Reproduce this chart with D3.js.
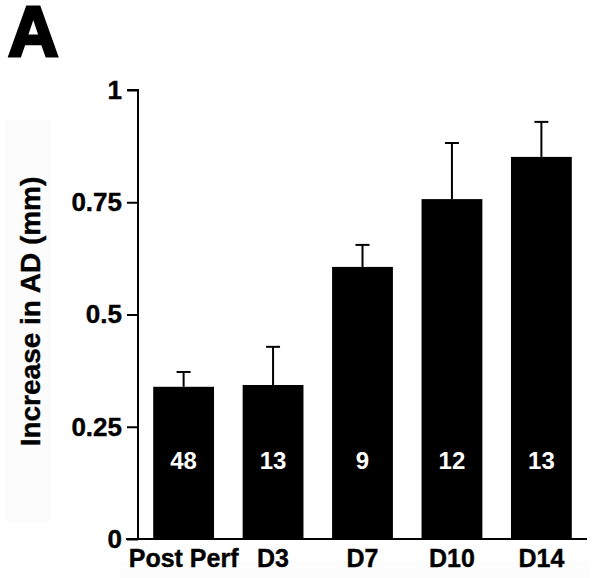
<!DOCTYPE html>
<html>
<head>
<meta charset="utf-8">
<script src="https://cdn.jsdelivr.net/npm/d3@7.9.0/dist/d3.min.js"></script>
<style>
  body { margin: 0; background: #fff; }
  svg text { font-family: "Liberation Sans", Arial, Helvetica, sans-serif; font-weight: bold; }
</style>
</head>
<body>
<svg id="chart" width="600" height="578"></svg>
<script>
// data
const categories = ['Post Perf', 'D3', 'D7', 'D10', 'D14'];
const means = [0.339, 0.343, 0.606, 0.757, 0.851];
const sems = [0.033, 0.085, 0.049, 0.125, 0.078];
const counts = [48, 13, 9, 12, 13];
const yTicks = [0, 0.25, 0.5, 0.75, 1];

const svg = d3.select('#chart');

// plot box
const plotLeft = 138, plotRight = 587, plotTop = 90, plotBottom = 539;

let x = d3.scaleBand()
    .domain(categories)
    .range([plotLeft, plotRight])
    .paddingInner(0.32)
    .paddingOuter(0.17);

let y = d3.scaleLinear().domain([0, 1]).range([plotBottom, plotTop]);

// faint grey patches behind the labels (as in the scan)
svg.append('rect').attr('x', 5).attr('y', 120).attr('width', 46).attr('height', 403).attr('fill', '#fcfcfc');
svg.append('rect').attr('x', 120).attr('y', 561).attr('width', 470).attr('height', 17).attr('fill', '#fcfcfc');

// panel letter
svg.append('text')
    .attr('x', 8).attr('y', 56)
    .attr('font-size', 70)
    .attr('stroke', '#000').attr('stroke-width', 3)
    .text('A');

let data = categories.map((c, i) => ({ cat: c, mean: means[i], sem: sems[i], n: counts[i] }));

// error bars (upper only)
let err = svg.append('g').attr('stroke', '#000').attr('stroke-width', 2);
data.forEach((d) => {
    let cx = x(d.cat) + x.bandwidth() / 2;
    err.append('line')
        .attr('x1', cx).attr('x2', cx)
        .attr('y1', y(d.mean)).attr('y2', y(d.mean + d.sem));
    err.append('line')
        .attr('x1', cx - 7).attr('x2', cx + 7)
        .attr('y1', y(d.mean + d.sem)).attr('y2', y(d.mean + d.sem));
});

// bars
svg.append('g').selectAll('rect')
    .data(data)
    .join('rect')
    .attr('x', (d) => x(d.cat))
    .attr('width', x.bandwidth())
    .attr('y', (d) => y(d.mean))
    .attr('height', (d) => y(0) - y(d.mean))
    .attr('fill', '#000');

// n inside bars
svg.append('g').selectAll('text')
    .data(data)
    .join('text')
    .attr('x', (d) => x(d.cat) + x.bandwidth() / 2)
    .attr('y', y(0.155))
    .attr('text-anchor', 'middle')
    .attr('fill', '#fff')
    .attr('font-size', 24)
    .text((d) => d.n);

// y axis
let yAxis = svg.append('g')
    .attr('transform', `translate(${plotLeft},0)`)
    .call(d3.axisLeft(y).tickValues(yTicks).tickFormat((d) => String(d)).tickSize(11).tickPadding(5));
yAxis.select('.domain').attr('stroke-width', 2).attr('d', `M-11,${plotTop}H0V${plotBottom}`);
yAxis.selectAll('.tick line').attr('stroke-width', 2);
yAxis.selectAll('.tick text').attr('font-size', 26).attr('fill', '#000')
    .attr('stroke', '#000').attr('stroke-width', 0.4);

// x axis baseline + labels
svg.append('line')
    .attr('x1', plotLeft - 12).attr('x2', plotRight)
    .attr('y1', plotBottom).attr('y2', plotBottom)
    .attr('stroke', '#000').attr('stroke-width', 2);

svg.append('g').selectAll('text')
    .data(categories)
    .join('text')
    .attr('x', (d) => x(d) + x.bandwidth() / 2)
    .attr('y', 567)
    .attr('text-anchor', 'middle')
    .attr('font-size', 25)
    .attr('stroke', '#000').attr('stroke-width', 0.4)
    .text((d) => d);

// y title
svg.append('text')
    .attr('transform', `translate(40,${(173 + 450) / 2}) rotate(-90)`)
    .attr('text-anchor', 'middle')
    .attr('font-size', 28)
    .attr('stroke', '#000').attr('stroke-width', 0.4)
    .text('Increase in AD (mm)');
</script>
</body>
</html>
